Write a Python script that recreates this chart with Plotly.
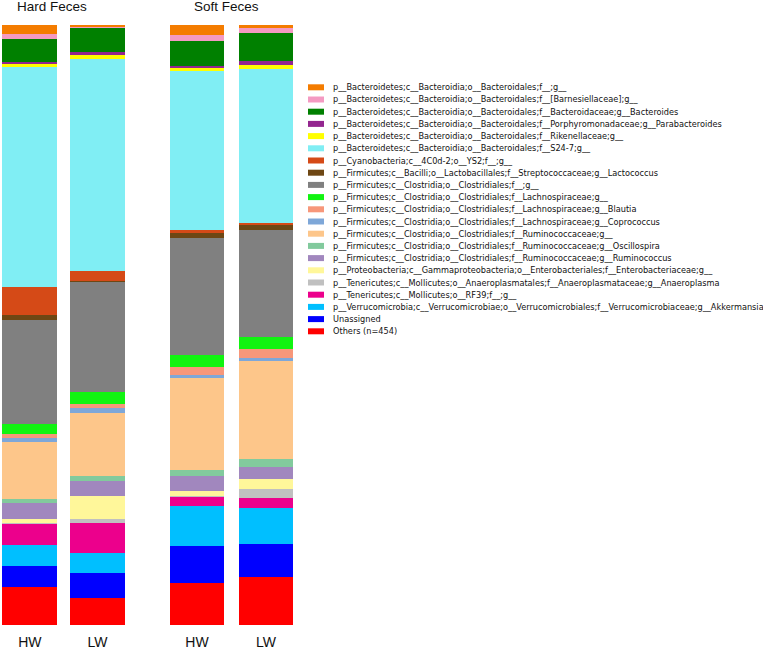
import plotly.graph_objects as go

taxa = [
    "p__Bacteroidetes;c__Bacteroidia;o__Bacteroidales;f__;g__",
    "p__Bacteroidetes;c__Bacteroidia;o__Bacteroidales;f__[Barnesiellaceae];g__",
    "p__Bacteroidetes;c__Bacteroidia;o__Bacteroidales;f__Bacteroidaceae;g__Bacteroides",
    "p__Bacteroidetes;c__Bacteroidia;o__Bacteroidales;f__Porphyromonadaceae;g__Parabacteroides",
    "p__Bacteroidetes;c__Bacteroidia;o__Bacteroidales;f__Rikenellaceae;g__",
    "p__Bacteroidetes;c__Bacteroidia;o__Bacteroidales;f__S24-7;g__",
    "p__Cyanobacteria;c__4C0d-2;o__YS2;f__;g__",
    "p__Firmicutes;c__Bacilli;o__Lactobacillales;f__Streptococcaceae;g__Lactococcus",
    "p__Firmicutes;c__Clostridia;o__Clostridiales;f__;g__",
    "p__Firmicutes;c__Clostridia;o__Clostridiales;f__Lachnospiraceae;g__",
    "p__Firmicutes;c__Clostridia;o__Clostridiales;f__Lachnospiraceae;g__Blautia",
    "p__Firmicutes;c__Clostridia;o__Clostridiales;f__Lachnospiraceae;g__Coprococcus",
    "p__Firmicutes;c__Clostridia;o__Clostridiales;f__Ruminococcaceae;g__",
    "p__Firmicutes;c__Clostridia;o__Clostridiales;f__Ruminococcaceae;g__Oscillospira",
    "p__Firmicutes;c__Clostridia;o__Clostridiales;f__Ruminococcaceae;g__Ruminococcus",
    "p__Proteobacteria;c__Gammaproteobacteria;o__Enterobacteriales;f__Enterobacteriaceae;g__",
    "p__Tenericutes;c__Mollicutes;o__Anaeroplasmatales;f__Anaeroplasmataceae;g__Anaeroplasma",
    "p__Tenericutes;c__Mollicutes;o__RF39;f__;g__",
    "p__Verrucomicrobia;c__Verrucomicrobiae;o__Verrucomicrobiales;f__Verrucomicrobiaceae;g__Akkermansia",
    "Unassigned",
    "Others (n=454)",
]

colors = [
    "#F47C00", "#F49AC2", "#008000", "#93268F", "#FFFF00", "#80EEF4", "#D54A17",
    "#6E4714", "#808080", "#11F411", "#F7977A", "#7EA7D8", "#FDC68A", "#82CA9D",
    "#A187BE", "#FFF79A", "#C0C0C0", "#EC008C", "#00BFFF", "#0000FF", "#FF0000",
]

sample_labels = ["HW", "LW", "HW", "LW"]
group_titles = ["Hard Feces", "Soft Feces"]

# relative abundance (%) per sample, in legend order (top of stack first)
hard_hw = [1.55, 0.83, 3.78, 0.33, 0.6, 36.6, 4.7, 0.83, 17.3, 1.78, 0.67, 0.6,
           9.44, 0.67, 2.67, 0.67, 0.1, 3.6, 3.44, 3.5, 6.4]
hard_lw = [0.22, 0.28, 4.06, 0.33, 0.78, 35.3, 1.67, 0.1, 18.5, 1.94, 0.67, 0.89,
           10.44, 0.83, 2.5, 3.89, 0.56, 5.0, 3.44, 4.06, 4.56]
soft_hw = [1.67, 1.06, 4.11, 0.39, 0.5, 26.45, 0.44, 0.94, 19.4, 2.06, 1.33, 0.5,
           15.33, 1.0, 2.44, 0.89, 0.1, 1.56, 6.67, 6.22, 6.94]
soft_lw = [0.56, 0.72, 4.83, 0.61, 0.67, 25.67, 0.17, 0.94, 17.8, 2.06, 1.44, 0.5,
           16.44, 1.22, 2.06, 1.61, 1.5, 1.67, 6.06, 5.56, 7.94]

samples = [hard_hw, hard_lw, soft_hw, soft_lw]

# layout constants
W, H = 763, 650
x_pos = [0, 1, 2.47, 3.49]
unit_px = 67.7
x0_px = 29.8
plot_right_px = 299.5
top_px, bottom_px = 25, 625

fig = go.Figure()
n = len(taxa)
for i in reversed(range(n)):
    fig.add_trace(go.Bar(
        x=x_pos,
        y=[s[i] for s in samples],
        name=taxa[i],
        marker=dict(color=colors[i], line=dict(width=0)),
        width=0.808,
        showlegend=False,
        hovertemplate=taxa[i] + ": %{y:.2f}%<extra></extra>",
    ))

xr = [(0 - x0_px) / unit_px, (plot_right_px - x0_px) / unit_px]

def px_x(p):
    return p / W

def px_y(p):
    return (bottom_px - p) / (bottom_px - top_px)

shapes = []
annotations = []
# custom legend
leg_y0 = 87.3
leg_dy = 12.2
for i in range(n):
    yc = leg_y0 + i * leg_dy
    shapes.append(dict(type="rect", xref="paper", yref="paper",
                       x0=px_x(308), x1=px_x(324), y0=px_y(yc + 3), y1=px_y(yc - 3),
                       fillcolor=colors[i], line=dict(width=0)))
    annotations.append(dict(xref="paper", yref="paper", x=px_x(331), y=px_y(yc),
                            xanchor="left", yanchor="middle", showarrow=False,
                            text=taxa[i], font=dict(family="DejaVu Sans", size=8.2, color="#111111")))

# group titles
for title, cx in zip(group_titles, [52.3, 227]):
    annotations.append(dict(xref="paper", yref="paper", x=px_x(cx), y=px_y(7),
                            xanchor="center", yanchor="middle", showarrow=False,
                            text=title, font=dict(family="Liberation Sans, Arial", size=13.5, color="#111111")))

fig.update_layout(
    barmode="stack",
    width=W, height=H,
    margin=dict(l=0, r=0, t=top_px, b=H - bottom_px, pad=0),
    plot_bgcolor="white", paper_bgcolor="white",
    bargap=0,
    xaxis=dict(domain=[0, plot_right_px / W], range=xr, tickvals=x_pos, ticktext=sample_labels,
               showgrid=False, zeroline=False, showline=False, ticks="outside", ticklen=4,
               tickcolor="rgba(0,0,0,0)", automargin=False,
               tickfont=dict(family="Liberation Sans, Arial", size=14, color="#111111")),
    yaxis=dict(range=[0, 100], showgrid=False, zeroline=False, showline=False,
               showticklabels=False, ticks="", automargin=False),
    shapes=shapes,
    annotations=annotations,
    showlegend=False,
)

fig.write_html(
    "out.html",
    config={"displayModeBar": False},
    post_script="document.body.style.margin='0';document.body.style.padding='0';document.body.style.overflow='hidden';",
)
